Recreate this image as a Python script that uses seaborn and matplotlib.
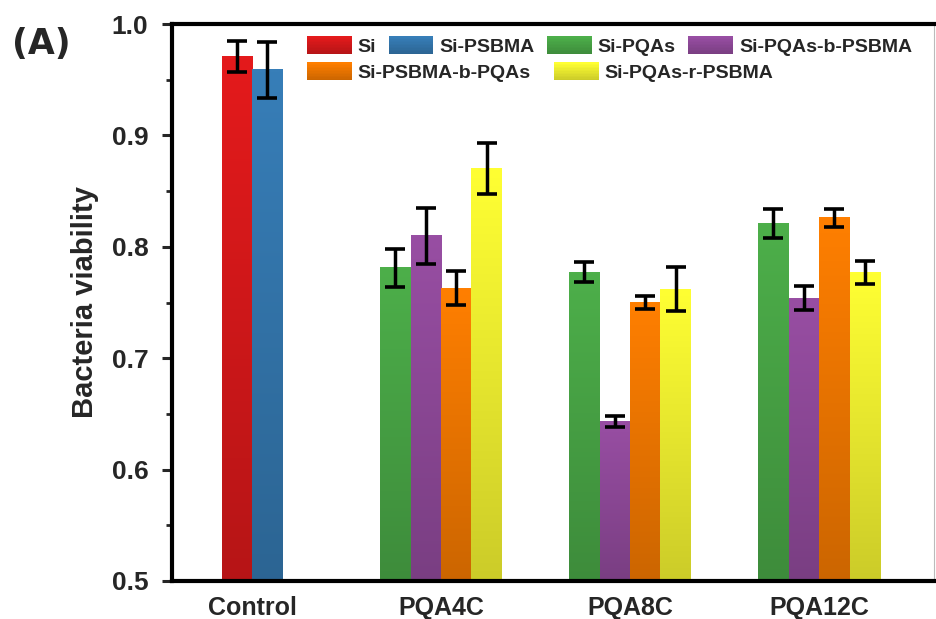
import numpy as np
import pandas as pd
import matplotlib
matplotlib.use('Agg')
import matplotlib.pyplot as plt
import seaborn as sns
from matplotlib.patches import Patch, Rectangle
from matplotlib.legend_handler import HandlerBase
from matplotlib.colors import to_rgb
from matplotlib.ticker import MultipleLocator

# ============ DATA ============
groups = ['Control', 'PQA4C', 'PQA8C', 'PQA12C']
series = ['Si', 'Si-PSBMA', 'Si-PQAs', 'Si-PQAs-b-PSBMA', 'Si-PSBMA-b-PQAs', 'Si-PQAs-r-PSBMA']
colors = ['#E41A1C', '#377EB8', '#4DAF4A', '#984EA3', '#FF7F00', '#FFFF33']

control_series = ['Si', 'Si-PSBMA']
control_mean = [0.971, 0.959]
control_err = [0.014, 0.025]

pqa_series = ['Si-PQAs', 'Si-PQAs-b-PSBMA', 'Si-PSBMA-b-PQAs', 'Si-PQAs-r-PSBMA']
pqa4c_mean = [0.781, 0.810, 0.763, 0.870]
pqa4c_err = [0.017, 0.025, 0.015, 0.023]
pqa8c_mean = [0.777, 0.643, 0.750, 0.762]
pqa8c_err = [0.009, 0.005, 0.006, 0.020]
pqa12c_mean = [0.821, 0.754, 0.826, 0.777]
pqa12c_err = [0.013, 0.011, 0.008, 0.010]

bar_w = 0.161  # bar width in group units

group_data = [
    (control_series, control_mean, control_err),
    (pqa_series, pqa4c_mean, pqa4c_err),
    (pqa_series, pqa8c_mean, pqa8c_err),
    (pqa_series, pqa12c_mean, pqa12c_err),
]

rows = []
for gi, (names, means, errs) in enumerate(group_data):
    n = len(names)
    for k in range(n):
        rows.append({'group': groups[gi], 'series': names[k],
                     'pos': gi + (k - (n - 1) / 2) * bar_w,
                     'mean': means[k], 'err': errs[k]})
df = pd.DataFrame(rows)


# gradient legend patch (light top, dark bottom)
class GradientHandler(HandlerBase):
    def create_artists(self, legend, orig_handle, xdescent, ydescent,
                       width, height, fontsize, trans):
        c = np.array(to_rgb(orig_handle.get_facecolor()))
        n = 12
        arts = []
        for i in range(n):
            t = i / (n - 1)
            col = c * (0.8 + 0.2 * t)
            r = Rectangle((-xdescent, -ydescent + height * i / n), width, height / n + 0.3,
                          facecolor=col, edgecolor='none', transform=trans)
            arts.append(r)
        return arts


# ============ PLOT ============
sns.set_style('ticks')
plt.rcParams['font.family'] = ['Liberation Sans', 'DejaVu Sans']
plt.rcParams['font.weight'] = 'bold'

fig = plt.figure(figsize=(9.36, 6.19), dpi=100)
ax = fig.add_axes([172 / 936, 1 - 581 / 619, (934 - 172) / 936, (581 - 24) / 619])

sns.barplot(data=df, x='pos', y='mean', hue='series', hue_order=series,
            palette=colors, saturation=1, native_scale=True, dodge=False, width=1.0,
            errorbar=None, legend=False, ax=ax)

ybot, ytop = 0.5, 1.0
grad_t = np.linspace(0, 1, 100)[:, None]
for p in list(ax.patches):
    c = np.array(p.get_facecolor()[:3])
    x0, w, h = p.get_x(), p.get_width(), p.get_height()
    img = (c * 0.8)[None, None, :] + (c * 0.2)[None, None, :] * grad_t[:, :, None]
    ax.imshow(img, extent=[x0, x0 + w, ybot, h], origin='lower', aspect='auto',
              interpolation='bilinear', zorder=2)
    p.set_visible(False)

ax.errorbar(df['pos'], df['mean'], yerr=df['err'], fmt='none', ecolor='black',
            elinewidth=2.5, capsize=7.5, capthick=2.6, zorder=5)

ax.set_xlim(-0.423, 3.608)
ax.set_ylim(ybot, ytop)
ax.set_xticks(range(len(groups)))
ax.set_xticklabels(groups, fontsize=18, fontweight='bold')
ax.set_xlabel('')
ax.set_ylabel('Bacteria viability', fontsize=21, fontweight='bold', labelpad=9)

ax.yaxis.set_major_locator(MultipleLocator(0.1))
ax.yaxis.set_minor_locator(MultipleLocator(0.05))
ax.set_yticks(np.arange(0.5, 1.01, 0.1))
ax.set_yticklabels([f'{v:.1f}' for v in np.arange(0.5, 1.01, 0.1)], fontsize=19, fontweight='bold')
ax.tick_params(axis='y', which='major', direction='out', length=7, width=2.2, pad=10)
ax.tick_params(axis='y', which='minor', direction='out', length=4, width=2)
ax.tick_params(axis='x', length=0, pad=11)

for side in ['left', 'top', 'bottom']:
    ax.spines[side].set_linewidth(3)
    ax.spines[side].set_color('black')
ax.spines['right'].set_linewidth(0.8)
ax.spines['right'].set_color('#bbbbbb')
ax.grid(False)

handles = [Patch(facecolor=c) for c in colors]
leg_kw = dict(loc='upper left', bbox_transform=fig.transFigure, frameon=False,
              borderpad=0, borderaxespad=0, handlelength=2.3, handleheight=1.05,
              handletextpad=0.3, prop={'weight': 'bold', 'size': 14},
              handler_map={Patch: GradientHandler()})
leg1 = ax.legend(handles[:4], series[:4], ncol=4, columnspacing=0.65,
                 bbox_to_anchor=(307 / 936, 1 - 36 / 619), **leg_kw)
ax.add_artist(leg1)
ax.legend(handles[4:], series[4:], ncol=2, columnspacing=1.2,
          bbox_to_anchor=(307 / 936, 1 - 62 / 619), **leg_kw)

fig.text(12 / 936, 1 - 27 / 619, '(A)', fontsize=25, fontweight='bold',
         family='DejaVu Sans', va='top', ha='left')

fig.savefig('out.png', dpi=100)
